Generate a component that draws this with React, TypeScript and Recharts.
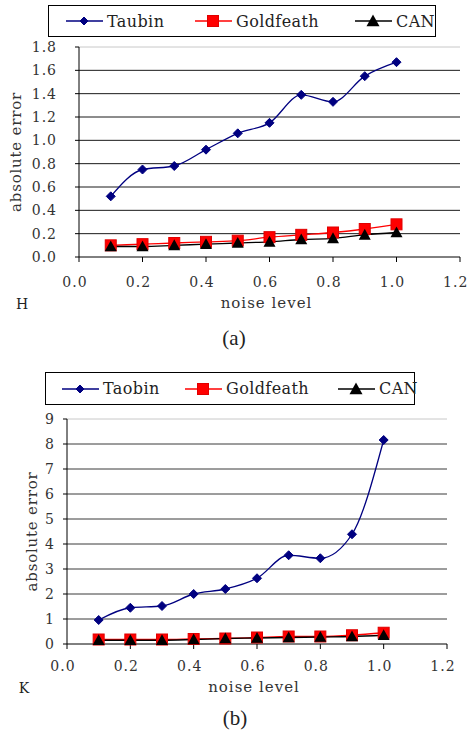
import { LineChart, Line, XAxis, YAxis, CartesianGrid, Legend } from 'recharts';

const noiseLevels = [0.1, 0.2, 0.3, 0.4, 0.5, 0.6, 0.7, 0.8, 0.9, 1.0];

// chart (a) - H
const taubinA = [0.52, 0.75, 0.78, 0.92, 1.06, 1.15, 1.39, 1.33, 1.55, 1.67];
const goldA = [0.1, 0.11, 0.12, 0.13, 0.14, 0.17, 0.19, 0.21, 0.24, 0.28];
const canA = [0.09, 0.09, 0.1, 0.11, 0.12, 0.13, 0.15, 0.16, 0.19, 0.21];

// chart (b) - K
const taobinB = [0.96, 1.45, 1.52, 2.0, 2.2, 2.63, 3.55, 3.43, 4.39, 8.16];
const goldB = [0.18, 0.18, 0.18, 0.2, 0.22, 0.26, 0.3, 0.3, 0.35, 0.45];
const canB = [0.15, 0.15, 0.15, 0.18, 0.22, 0.24, 0.26, 0.28, 0.3, 0.35];

const xTicks = [0, 0.2, 0.4, 0.6, 0.8, 1.0, 1.2];
const yTicksA = [0, 0.2, 0.4, 0.6, 0.8, 1.0, 1.2, 1.4, 1.6, 1.8];
const yTicksB = [0, 1, 2, 3, 4, 5, 6, 7, 8, 9];

const toRows = (a: number[], b: number[], c: number[]) =>
    noiseLevels.map((x, i) => ({ x, s1: a[i], s2: b[i], s3: c[i] }));

const dataA = toRows(taubinA, goldA, canA);
const dataB = toRows(taobinB, goldB, canB);

const FONT = '"DejaVu Serif", serif';
const NAVY = '#000080';
const RED = '#ff0000';
const TEXT = '#333';

const Diamond = ({ cx, cy, r = 4.5 }: any) => (
    <path d={`M${cx},${cy - r}L${cx + r},${cy}L${cx},${cy + r}L${cx - r},${cy}Z`} fill={NAVY} stroke={NAVY} />
);
const Square = ({ cx, cy, r = 5.5 }: any) => (
    <rect x={cx - r} y={cy - r} width={r * 2} height={r * 2} fill={RED} stroke="#e00000" strokeWidth={1} />
);
const Triangle = ({ cx, cy, r = 6 }: any) => (
    <path d={`M${cx},${cy - r}L${cx + r},${cy + r * 0.8}L${cx - r},${cy + r * 0.8}Z`} fill="#000" />
);

const LegendBox = ({ names, pos }: { names: string[]; pos: number[] }) => {
    const icons = [
        { color: NAVY, el: <Diamond cx={18} cy={8} r={4} /> },
        { color: RED, el: <Square cx={18} cy={8} r={5.5} /> },
        { color: '#000', el: <Triangle cx={18} cy={8} r={6.5} /> },
    ];
    return (
        <div style={{ position: 'relative', width: '100%', height: '100%', border: '1px solid #000', boxSizing: 'border-box', background: '#fff' }}>
            {names.map((n, i) => (
                <div key={n} style={{ position: 'absolute', left: pos[i], top: 0, height: '100%', display: 'flex', alignItems: 'center' }}>
                    <svg width={37} height={16} style={{ overflow: 'visible' }}>
                        <line x1={0} y1={8} x2={37} y2={8} stroke={icons[i].color} strokeWidth={1.3} />
                        {icons[i].el}
                    </svg>
                    <span style={{ fontFamily: FONT, fontSize: 16, color: '#222', marginLeft: 4, letterSpacing: 0.4 }}>{n}</span>
                </div>
            ))}
        </div>
    );
};

const YTitle = (x: number) => (props: any) => {
    const { viewBox } = props;
    const cy = viewBox.y + viewBox.height / 2;
    return (
        <text x={x} y={cy} transform={`rotate(-90 ${x} ${cy})`} textAnchor="middle" dominantBaseline="central"
            fontFamily={FONT} fontSize={15} letterSpacing={0.8} fill={TEXT}>absolute error</text>
    );
};

const XTitle = (dy: number) => (props: any) => {
    const { viewBox } = props;
    return (
        <text x={viewBox.x + viewBox.width / 2 - 3} y={viewBox.y + dy} textAnchor="middle" dominantBaseline="central"
            fontFamily={FONT} fontSize={15} letterSpacing={1} fill={TEXT}>noise level</text>
    );
};

type PanelProps = {
    data: any[];
    names: string[];
    legendPos: number[];
    legendStyle: any;
    height: number;
    margin: any;
    yTicks: number[];
    yFmt: (v: number) => string;
    yTickMargin: number;
    xTickMargin: number;
    yTitleX: number;
    xTitleDy: number;
    gridColor: string;
};

const Panel = (p: PanelProps) => {
    const top = p.yTicks[p.yTicks.length - 1];
    return (
        <LineChart width={470} height={p.height} data={p.data} margin={p.margin}>
            <CartesianGrid vertical={false} stroke={p.gridColor} horizontalValues={p.yTicks.slice(1, -1)} />
            <CartesianGrid vertical={false} stroke="#c8c8c8" horizontalValues={[top]} />
            <XAxis
                dataKey="x"
                type="number"
                domain={[0, 1.2]}
                ticks={xTicks}
                tickFormatter={(v: number) => v.toFixed(1)}
                tick={{ fontFamily: FONT, fontSize: 14, fill: TEXT, dx: -4, letterSpacing: 1 }}
                tickSize={5}
                tickMargin={p.xTickMargin}
                axisLine={{ stroke: '#000' }}
                tickLine={{ stroke: '#000' }}
                height={30}
                label={XTitle(p.xTitleDy)}
            />
            <YAxis
                domain={[0, top]}
                ticks={p.yTicks}
                tickFormatter={p.yFmt}
                tick={{ fontFamily: FONT, fontSize: 14, fill: TEXT, letterSpacing: 1 }}
                tickSize={4}
                tickMargin={p.yTickMargin}
                axisLine={{ stroke: '#000' }}
                tickLine={{ stroke: '#000' }}
                width={60}
                label={YTitle(p.yTitleX)}
            />
            <Legend
                layout="horizontal"
                verticalAlign="middle"
                align="center"
                wrapperStyle={p.legendStyle}
                content={() => <LegendBox names={p.names} pos={p.legendPos} />}
            />
            <Line type="monotone" dataKey="s1" stroke={NAVY} strokeWidth={1.3} isAnimationActive={false}
                dot={(d: any) => <Diamond key={`a${d.index}`} cx={d.cx} cy={d.cy} />} />
            <Line type="monotone" dataKey="s2" stroke={RED} strokeWidth={1.3} isAnimationActive={false}
                dot={(d: any) => <Square key={`b${d.index}`} cx={d.cx} cy={d.cy} />} />
            <Line type="monotone" dataKey="s3" stroke="#000" strokeWidth={1.3} isAnimationActive={false}
                dot={(d: any) => <Triangle key={`c${d.index}`} cx={d.cx} cy={d.cy} />} />
        </LineChart>
    );
};

const Caption = ({ text, x, y, size, serif }: any) => (
    <div style={{
        position: 'absolute', left: x, top: y, transform: 'translate(-50%, -50%)',
        fontFamily: serif ? '"Liberation Serif", serif' : FONT, fontSize: size, color: '#222', lineHeight: 1,
    }}>{text}</div>
);

const App = () => {
    return (
        <div style={{ position: 'absolute', left: 0, top: 0, width: 470, height: 733, background: '#fff' }}>
            <div style={{ position: 'absolute', left: 0, top: 0 }}>
                <Panel
                    data={dataA}
                    names={['Taubin', 'Goldfeath', 'CAN']}
                    legendPos={[17, 146, 306]}
                    legendStyle={{ left: 48, top: 5, width: 388, height: 32 }}
                    height={320}
                    margin={{ top: 47, right: 10, left: 19, bottom: 33 }}
                    yTicks={yTicksA}
                    yFmt={(v: number) => v.toFixed(1)}
                    yTickMargin={18}
                    xTickMargin={15}
                    yTitleX={16}
                    xTitleDy={46}
                    gridColor="#1a1a1a"
                />
            </div>
            <div style={{ position: 'absolute', left: 0, top: 360 }}>
                <Panel
                    data={dataB}
                    names={['Taobin', 'Goldfeath', 'CAN']}
                    legendPos={[16, 139, 292]}
                    legendStyle={{ left: 45, top: 12, width: 370, height: 33 }}
                    height={360}
                    margin={{ top: 59, right: 23, left: 7, bottom: 46 }}
                    yTicks={yTicksB}
                    yFmt={(v: number) => String(v)}
                    yTickMargin={8}
                    xTickMargin={12}
                    yTitleX={32}
                    xTitleDy={43}
                    gridColor="#3a3a3a"
                />
            </div>
            <Caption text="H" x={22} y={304} size={14} />
            <Caption text="(a)" x={234} y={338} size={21} serif />
            <Caption text="K" x={24} y={688} size={14} />
            <Caption text="(b)" x={235} y={718} size={21} serif />
        </div>
    );
};

export default App;
